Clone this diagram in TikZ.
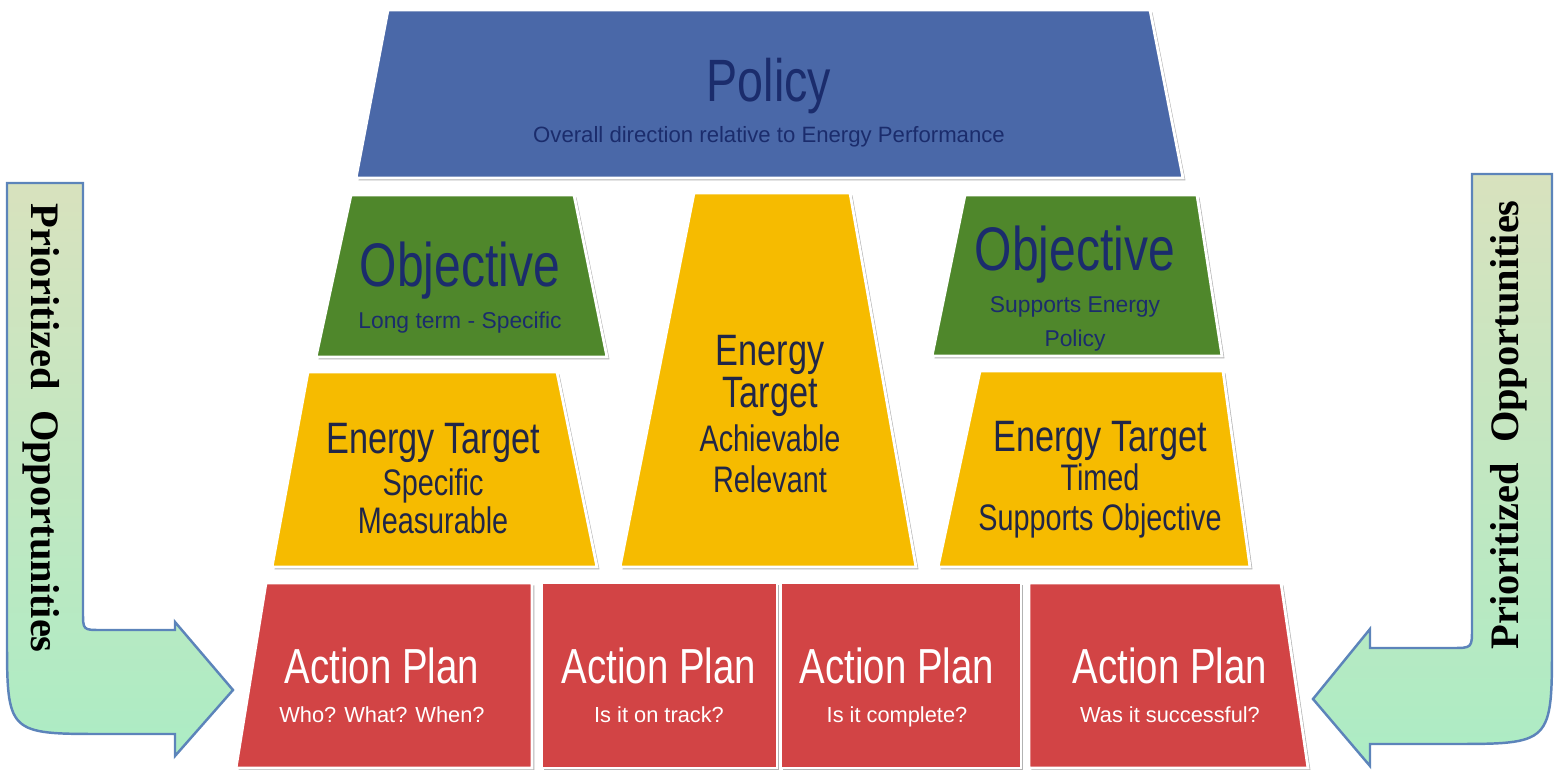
\documentclass[tikz,border=0pt]{standalone}
\usepackage{fontspec}
\setmainfont{Liberation Sans}[FakeStretch=0.78]
\newfontfamily\subfont{Liberation Sans}
\newfontfamily\oppfont{Liberation Serif}
\usetikzlibrary{shadows}
\definecolor{polblue}{RGB}{74,104,168}
\definecolor{objgreen}{RGB}{79,135,43}
\definecolor{tgtyellow}{RGB}{246,187,0}
\definecolor{apred}{RGB}{210,68,69}
\definecolor{navy}{RGB}{27,44,108}
\definecolor{tgtnavy}{RGB}{32,38,72}
\definecolor{arrtop}{RGB}{216,226,190}
\definecolor{arrbot}{RGB}{172,236,196}
\definecolor{arredge}{RGB}{92,132,186}
\tikzset{
  blk/.style={draw=white,line width=0.8pt,drop shadow={shadow xshift=0.7pt,shadow yshift=-0.7pt,opacity=0.3,fill=black}},
  parrow/.style={draw=arredge,line width=0.7pt,top color=arrtop,bottom color=arrbot},
  ttl/.style={font=\fontsize{17}{20}\selectfont,text=navy,anchor=base,inner sep=0pt},
  sub/.style={font=\subfont\fontsize{6.5}{8}\selectfont,text=navy,anchor=base,inner sep=0pt},
  tgt/.style={font=\fontsize{12.5}{15}\selectfont,text=tgtnavy,anchor=base,inner sep=0pt},
  tgts/.style={font=\fontsize{10.5}{12}\selectfont,text=tgtnavy,anchor=base,inner sep=0pt},
  apt/.style={font=\fontsize{14}{16}\selectfont,text=white,anchor=base,inner sep=0pt},
  aps/.style={font=\subfont\fontsize{6.2}{8}\selectfont,text=white,anchor=base,inner sep=0pt},
  opp/.style={font=\oppfont\bfseries\fontsize{11.5}{14}\selectfont,text=black,inner sep=0pt}
}

\begin{document}
\begin{tikzpicture}[x=0.01cm,y=-0.01cm]
  \useasboundingbox (0,0) rectangle (1554,770);
  \path[parrow] (7,183) -- (83,183) -- (83,612) .. controls (83,630) .. (101,630) -- (175,630) -- (175,622) -- (233,690) -- (175,756) -- (175,734) -- (105,734) .. controls (7,734) .. (7,636) -- cycle;
  \path[parrow] (1552,174) -- (1472,174) -- (1472,628) .. controls (1472,648) .. (1452,648) -- (1370,648) -- (1370,629) -- (1313,699) -- (1370,766) -- (1370,744) -- (1450,744) .. controls (1552,744) .. (1552,642) -- cycle;
  \node[opp,rotate=-90] (oppl) at (41,428) {Prioritized\ \ Opportunities};
  \node[opp,rotate=90] (oppr) at (1509,425) {Prioritized\ \ Opportunities};

  \path[blk,fill=polblue] (388,10) -- (1150,10) -- (1183,178) -- (356,178) -- cycle;
  \path[blk,fill=objgreen] (351,195) -- (574,195) -- (607,357) -- (316,357) -- cycle;
  \path[blk,fill=objgreen] (965,195) -- (1197,195) -- (1222,356) -- (932,356) -- cycle;
  \path[blk,fill=tgtyellow] (308,372) -- (557,372) -- (597,567) -- (272,567) -- cycle;
  \path[blk,fill=tgtyellow] (694,193) -- (850,193) -- (916,567) -- (620,567) -- cycle;
  \path[blk,fill=tgtyellow] (980,371) -- (1223,371) -- (1250,567) -- (938,567) -- cycle;
  \path[blk,fill=apred] (266,583) -- (532,583) -- (532,768) -- (236,768) -- cycle;
  \path[blk,fill=apred] (542,583) -- (777,583) -- (777,768) -- (542,768) -- cycle;
  \path[blk,fill=apred] (781,583) -- (1021,583) -- (1021,768) -- (781,768) -- cycle;
  \path[blk,fill=apred] (1029,583) -- (1281,583) -- (1308,768) -- (1029,768) -- cycle;

  \node[ttl] (pol) at (769,102) {Policy};
  \node[sub,font=\subfont\fontsize{6.3}{8}\selectfont] (pols) at (769,143) {Overall direction relative to Energy Performance};
  \node[ttl,font=\fontsize{17.5}{20}\selectfont] (obja) at (460,287) {Objective};
  \node[sub] (objas) at (460,329) {Long term - Specific};
  \node[ttl,font=\fontsize{17.5}{20}\selectfont] (objb) at (1075,271) {Objective};
  \node[sub] (objbs) at (1075,313) {Supports Energy};
  \node[sub] (objbp) at (1075,347) {Policy};
  \node[tgt] (tgta) at (433,453) {Energy Target};
  \node[tgts] (tgtas) at (433,495) {Specific};
  \node[tgts] (tgtam) at (433,533) {Measurable};
  \node[tgt] (tgtb) at (770,365) {Energy};
  \node[tgt] (tgtbt) at (770,407) {Target};
  \node[tgts] (tgtba) at (770,452) {Achievable};
  \node[tgts] (tgtbr) at (770,492) {Relevant};
  \node[tgt] (tgtc) at (1100,452) {Energy Target};
  \node[tgts] (tgtct) at (1100,490) {Timed};
  \node[tgts] (tgtcs) at (1100,530) {Supports Objective};
  \node[apt] (apa) at (382,683) {Action Plan};
  \node[aps] (apas) at (382,722) {Who? What? When?};
  \node[apt] (apb) at (659,683) {Action Plan};
  \node[aps] (apbs) at (659,722) {Is it on track?};
  \node[apt] (apc) at (897,683) {Action Plan};
  \node[aps] (apcs) at (897,722) {Is it complete?};
  \node[apt] (apd) at (1170,683) {Action Plan};
  \node[aps] (apds) at (1170,722) {Was it successful?};
\end{tikzpicture}
\end{document}
